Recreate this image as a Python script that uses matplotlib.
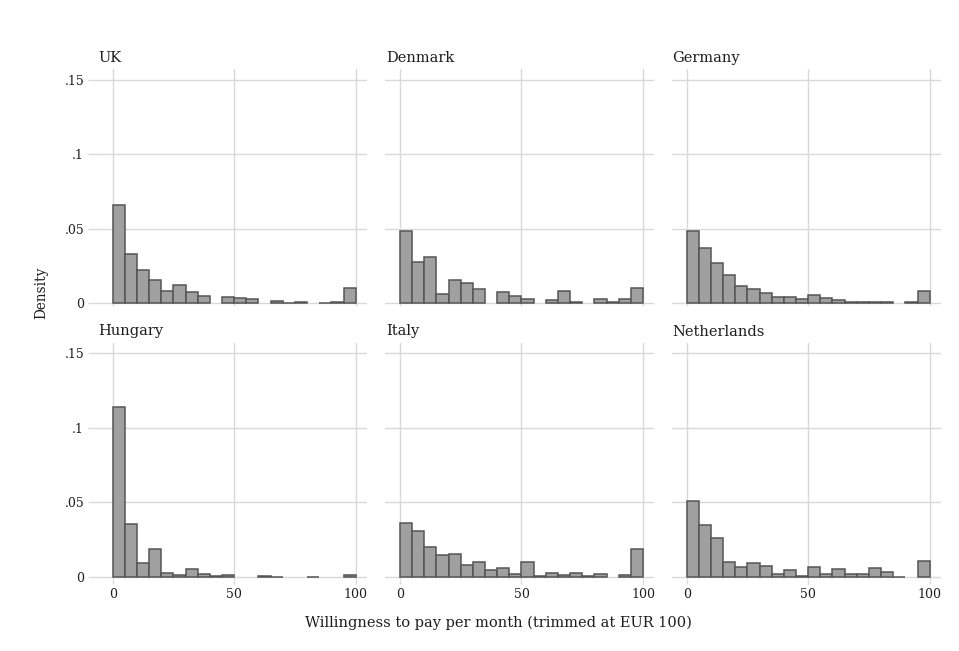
import numpy as np
import matplotlib
matplotlib.use("Agg")
import matplotlib.pyplot as plt

# Histogram densities of monthly willingness to pay, 5-EUR bins from 0 to 100
bin_edges = list(range(0, 100, 5))
countries = ["UK", "Denmark", "Germany", "Hungary", "Italy", "Netherlands"]

uk = [0.0662, 0.0333, 0.0221, 0.0154, 0.0083, 0.0125, 0.0078, 0.0049, 0.0,
      0.0045, 0.0038, 0.0029, 0.0, 0.0016, 0.0004, 0.0011, 0.0, 0.0002,
      0.0009, 0.0103]
denmark = [0.0487, 0.0277, 0.0311, 0.0065, 0.0154, 0.0134, 0.0096, 0.0,
           0.0078, 0.0047, 0.0029, 0.0, 0.0020, 0.0083, 0.0007, 0.0,
           0.0029, 0.0011, 0.0031, 0.0105]
germany = [0.0485, 0.0373, 0.0268, 0.0192, 0.0118, 0.0094, 0.0072, 0.0045,
           0.0040, 0.0027, 0.0054, 0.0036, 0.0022, 0.0011, 0.0009, 0.0007,
           0.0011, 0.0, 0.0009, 0.0080]
hungary = [0.1141, 0.0357, 0.0094, 0.0186, 0.0027, 0.0013, 0.0056, 0.0020,
           0.0007, 0.0016, 0.0, 0.0, 0.0007, 0.0002, 0.0, 0.0, 0.0002, 0.0,
           0.0, 0.0016]
italy = [0.0359, 0.0307, 0.0204, 0.0148, 0.0157, 0.0081, 0.0099, 0.0045,
         0.0063, 0.0020, 0.0103, 0.0007, 0.0027, 0.0016, 0.0027, 0.0009,
         0.0018, 0.0, 0.0016, 0.0188]
netherlands = [0.0507, 0.0348, 0.0258, 0.0101, 0.0067, 0.0092, 0.0074,
               0.0020, 0.0045, 0.0007, 0.0067, 0.0020, 0.0054, 0.0018,
               0.0018, 0.0058, 0.0036, 0.0002, 0.0, 0.0105]

series = [uk, denmark, germany, hungary, italy, netherlands]

y_ticks = [0, 0.05, 0.1, 0.15]
y_tick_labels = ["0", ".05", ".1", ".15"]
x_ticks = [0, 50, 100]
x_tick_labels = ["0", "50", "100"]

FONT = "DejaVu Serif"
GRID = "#d9d9d9"
FILL = "#a0a0a0"
EDGE = "#555555"
TEXT = "#1e1e1e"

W, H = 959, 651
fig = plt.figure(figsize=(W / 100, H / 100), dpi=100)
fig.patch.set_facecolor("white")

# panel geometry in pixels
col_left = [98.1, 385.4, 672.1]
panel_w = 269.0
row_top = [69.4, 343.0]
panel_h = 236.9

for i, (name, vals) in enumerate(zip(countries, series)):
    r, c = divmod(i, 3)
    left = col_left[c]
    top = row_top[r]
    ax = fig.add_axes([left / W, 1 - (top + panel_h) / H, panel_w / W, panel_h / H])
    ax.set_xlim(-6, 104.7)
    ax.set_ylim(-0.002, 0.157)
    for s in ax.spines.values():
        s.set_visible(False)
    ax.set_axisbelow(True)
    ax.grid(True, color=GRID, linewidth=1.0)

    edges = [e for e, v in zip(bin_edges, vals) if v > 0]
    heights = [v for v in vals if v > 0]
    ax.bar(edges, heights, width=5, align="edge", color=FILL,
           edgecolor=EDGE, linewidth=1.1)

    ax.set_xticks(x_ticks)
    ax.set_yticks(y_ticks)
    ax.tick_params(axis="x", length=3, width=1.0, color=GRID, pad=3,
                   labelsize=9, labelcolor=TEXT)
    ax.tick_params(axis="y", length=7, width=1.0, color=GRID, pad=3,
                   labelsize=9, labelcolor=TEXT)
    if r == 1:
        ax.set_xticklabels(x_tick_labels, fontfamily=FONT)
    else:
        ax.set_xticklabels([])
        ax.tick_params(axis="x", length=0)
    if c == 0:
        ax.set_yticklabels(y_tick_labels, fontfamily=FONT)
    else:
        ax.set_yticklabels([])
        ax.tick_params(axis="y", length=0)

    fig.text((left + 0.5) / W, 1 - (top - 7.5) / H, name, fontsize=10.5,
             fontfamily=FONT, color=TEXT, ha="left", va="baseline")

fig.text(41 / W, 1 - 293 / H, "Density", rotation=90, fontsize=9.8,
         fontfamily=FONT, color=TEXT, ha="center", va="center")
fig.text(498 / W, 1 - 627.5 / H, "Willingness to pay per month (trimmed at EUR 100)",
         fontsize=10.5, fontfamily=FONT, color=TEXT, ha="center", va="baseline")

fig.savefig("out.png", dpi=100, facecolor="white")
